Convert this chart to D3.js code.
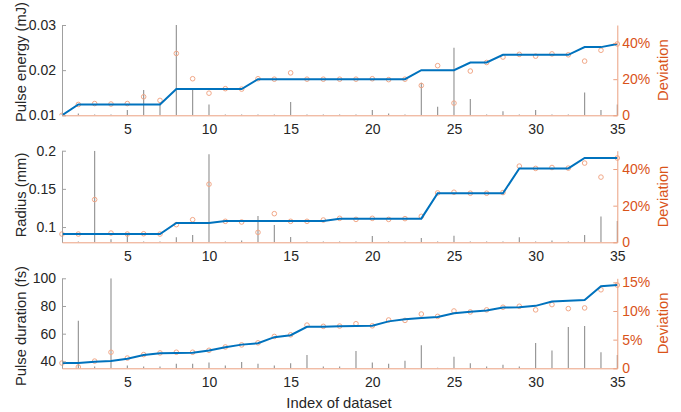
<!DOCTYPE html>
<html><head><meta charset="utf-8">
<script src="https://cdn.jsdelivr.net/npm/d3@7"></script>
<style>body{margin:0;background:#fff}svg{display:block;font-family:"Liberation Sans",Arial,sans-serif}</style>
</head><body><svg id="c" width="681" height="412"></svg>
<script>
const index = d3.range(1, 36);
const xTicks = [5, 10, 15, 20, 25, 30, 35];

const energyLine = [0.0100,0.0124,0.0124,0.0124,0.0124,0.0124,0.0124,0.0158,0.0158,0.0158,0.0158,0.0158,0.0180,0.0180,0.0180,0.0180,0.0180,0.0180,0.0180,0.0180,0.0180,0.0180,0.0200,0.0200,0.0200,0.0217,0.0217,0.0234,0.0234,0.0234,0.0234,0.0234,0.0251,0.0251,0.0258];
const energyMeas = [0.0100,0.0124,0.0126,0.0125,0.0126,0.0141,0.0133,0.0237,0.0181,0.0149,0.0159,0.0158,0.0181,0.0180,0.0194,0.0180,0.0180,0.0180,0.0180,0.0181,0.0179,0.0180,0.0166,0.0210,0.0127,0.0198,0.0217,0.0229,0.0235,0.0231,0.0236,0.0234,0.0220,0.0244,0.0258];
const energyDev = [0,1,0.5,0.5,3,14,7,50,14.4,6,0.5,0.5,0.5,0.5,7.4,0.5,0.5,0.5,0.5,3,1,0.5,18,4.8,37.4,9,0.5,2.2,0.5,3,0.5,0.5,12.6,3,6];
const energyTicks = [0.01, 0.02, 0.03];
const energyTickLabels = ["0.01", "0.02", "0.03"];

const radiusLine = [0.0908,0.0908,0.0908,0.0908,0.0908,0.0908,0.0908,0.1053,0.1053,0.1053,0.1079,0.1079,0.1079,0.1079,0.1079,0.1079,0.1079,0.1110,0.1110,0.1110,0.1110,0.1110,0.1110,0.1443,0.1443,0.1443,0.1443,0.1443,0.1768,0.1768,0.1768,0.1768,0.1904,0.1904,0.1904];
const radiusMeas = [0.0908,0.0908,0.1360,0.0921,0.0908,0.0912,0.0908,0.1031,0.1096,0.1561,0.1075,0.1066,0.0930,0.1175,0.1075,0.1075,0.1092,0.1114,0.1100,0.1114,0.1100,0.1110,0.1140,0.1447,0.1456,0.1443,0.1443,0.1452,0.1798,0.1768,0.1780,0.1772,0.1838,0.1654,0.1904];
const radiusDev = [0,0.5,50,1.6,4,0.5,0.5,2.7,4,48,0.5,1,14.3,9.4,2.9,0.5,0.5,0.5,0.5,3.4,0.5,0.5,2.3,0.5,3.6,0.5,0.5,0.5,2.7,0.5,1,0.5,4,14.1,11.6];
const radiusTicks = [0.1, 0.15, 0.2];
const radiusTickLabels = ["0.1", "0.15", "0.2"];

const durLine = [38.8,38.8,39.8,40.2,41.9,44.6,45.8,46.1,46.3,47.8,50.2,52.1,53.1,57.5,58.9,65.0,65.0,65.4,65.5,65.7,68.9,70.4,71.3,72.1,74.7,75.9,76.7,78.9,79.1,80.1,83.2,83.7,84.4,94.2,95.1];
const durMeas = [38.8,35.9,40.2,46.6,42.4,44.9,46.1,46.6,46.6,48.0,50.4,51.9,53.4,58.0,59.2,66.2,65.3,65.5,67.2,65.7,69.9,69.6,74.2,72.5,76.4,75.7,77.2,79.1,79.8,77.2,81.0,78.1,78.6,91.7,95.1];
const durDev = [0,8.3,0.3,15.7,0.5,0.3,0.3,0.8,0.8,1.0,0.5,1.1,0.8,0.5,0.9,2.3,0.3,0.3,3.0,1.0,0.8,1.3,4.0,0.1,2.0,0.9,0.3,0.6,0.3,4.4,3.1,7.2,7.4,2.8,2.3];
const durTicks = [40, 60, 80, 100];
const durTickLabels = ["40", "60", "80", "100"];

const devTicks50 = [0, 20, 40];
const devTickLabels50 = ["0", "20%", "40%"];
const devTicks15 = [0, 5, 10, 15];
const devTickLabels15 = ["0", "5%", "10%", "15%"];

const panels = [
  {title: "Pulse energy (mJ)", titleY: 62, top: 25, bottom: 115.3, yDom: [0.01, 0.03], rDom: [0, 50],
   line: energyLine, meas: energyMeas, dev: energyDev, lt: energyTicks, ll: energyTickLabels, rt: devTicks50, rl: devTickLabels50},
  {title: "Radius (mm)", titleY: 195, top: 150.7, bottom: 242.3, yDom: [0.08, 0.2], rDom: [0, 50],
   line: radiusLine, meas: radiusMeas, dev: radiusDev, lt: radiusTicks, ll: radiusTickLabels, rt: devTicks50, rl: devTickLabels50},
  {title: "Pulse duration (fs)", titleY: 326, top: 278.3, bottom: 368.3, yDom: [35, 100], rDom: [0, 15.7],
   line: durLine, meas: durMeas, dev: durDev, lt: durTicks, ll: durTickLabels, rt: devTicks15, rl: devTickLabels15}
];

const svg = d3.select("#c");
const X0 = 62, X1 = 617.3;
const x = d3.scaleLinear().domain([1, 35]).range([X0, X1]);
const ORANGE = "#D95319", BLUE = "#0072BD";

panels.forEach((p, pi) => {
  const y = d3.scaleLinear().domain(p.yDom).range([p.bottom, p.top]);
  const yr = d3.scaleLinear().domain(p.rDom).range([p.bottom, p.top]);
  const clipId = "clip" + pi;
  svg.append("clipPath").attr("id", clipId).append("rect")
    .attr("x", X0 - 4).attr("y", p.top).attr("width", X1 - X0 + 8).attr("height", p.bottom - p.top);
  const g = svg.append("g");
  const plot = g.append("g").attr("clip-path", `url(#${clipId})`);

  // stems (right axis)
  plot.selectAll("line.stem").data(index).join("line")
    .attr("x1", i => x(i)).attr("x2", i => x(i))
    .attr("y1", yr(0)).attr("y2", i => yr(p.dev[i - 1]))
    .attr("stroke", "#8f8f8f").attr("stroke-width", 1.1);

  // circles
  plot.selectAll("circle").data(index).join("circle")
    .attr("cx", i => x(i)).attr("cy", i => y(p.meas[i - 1])).attr("r", 2.3)
    .attr("fill", "none").attr("stroke", "#F2A888").attr("stroke-width", 1);

  // blue line
  plot.append("path").datum(index)
    .attr("d", d3.line().x(i => x(i)).y(i => y(p.line[i - 1])))
    .attr("fill", "none").attr("stroke", BLUE).attr("stroke-width", 2);

  // left axis
  const la = g.append("g").attr("transform", `translate(${X0},0)`)
    .call(d3.axisLeft(y).tickValues(p.lt).tickFormat((d, k) => p.ll[k]).tickSizeInner(-4).tickSizeOuter(0).tickPadding(6));
  la.select(".domain").attr("stroke", "#a0a0a0");
  la.selectAll(".tick line").attr("stroke", "#a0a0a0");
  la.selectAll(".tick text").attr("fill", "#262626").style("font-size", "14px");

  // right axis
  const ra = g.append("g").attr("transform", `translate(${X1},0)`)
    .call(d3.axisRight(yr).tickValues(p.rt).tickFormat((d, k) => p.rl[k]).tickSizeInner(-4).tickSizeOuter(0).tickPadding(5));
  ra.select(".domain").attr("stroke", "#EBA080");
  ra.selectAll(".tick line").attr("stroke", "#EBA080");
  ra.selectAll(".tick text").attr("fill", ORANGE).style("font-size", "14px");

  // bottom axis
  const ba = g.append("g").attr("transform", `translate(0,${p.bottom})`)
    .call(d3.axisBottom(x).tickValues(xTicks).tickFormat(d3.format("d")).tickSize(0).tickPadding(9));
  ba.select(".domain").attr("stroke", "#EBA080");
  ba.selectAll(".tick text").attr("fill", "#262626").style("font-size", "14px");

  // titles
  svg.append("text").attr("transform", `translate(25.5,${p.titleY}) rotate(-90)`)
    .attr("text-anchor", "middle").style("font-size", "14.8px").attr("fill", "#262626").text(p.title);
  svg.append("text").attr("transform", `translate(668,${(p.top + p.bottom) / 2}) rotate(-90)`)
    .attr("text-anchor", "middle").style("font-size", "14.8px").attr("fill", ORANGE).text("Deviation");
});

svg.append("text").attr("x", 339).attr("y", 407.5).attr("text-anchor", "middle")
  .style("font-size", "14.8px").attr("fill", "#262626").text("Index of dataset");
</script></body></html>
